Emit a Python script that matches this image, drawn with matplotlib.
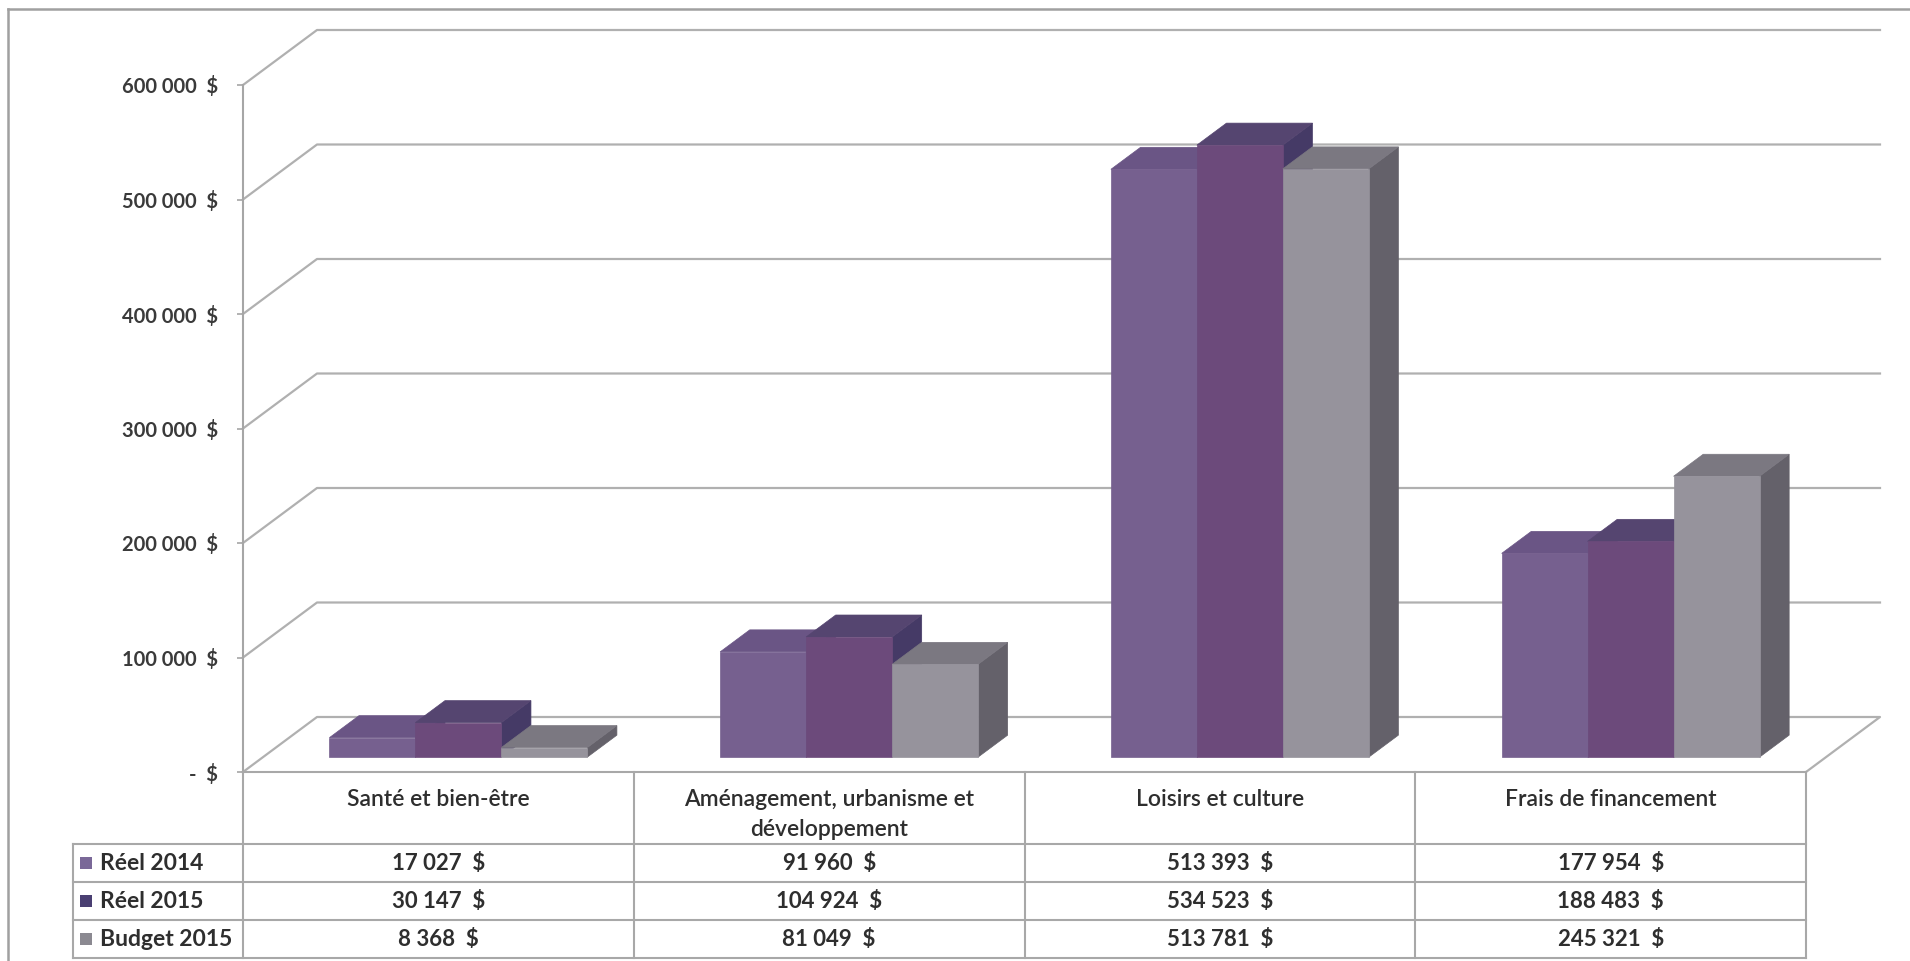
import matplotlib
matplotlib.use("Agg")
import matplotlib.pyplot as plt
from matplotlib.patches import Polygon, Rectangle

# ---------------- data ----------------
categories = ["Santé et bien-être",
              "Aménagement, urbanisme et\ndéveloppement",
              "Loisirs et culture",
              "Frais de financement"]
series_names = ["Réel 2014", "Réel 2015", "Budget 2015"]
reel_2014 = [17027, 91960, 513393, 177954]
reel_2015 = [30147, 104924, 534523, 188483]
budget_2015 = [8368, 81049, 513781, 245321]
y_ticks = [0, 100000, 200000, 300000, 400000, 500000, 600000]

series_values = [reel_2014, reel_2015, budget_2015]
front_colors = ['#76608f', '#6c4a7b', '#96939c']
top_colors = ['#6a5585', '#554570', '#7b7881']
side_colors = ['#5a4776', '#453a66', '#64616a']
legend_colors = ['#7a6898', '#4a3f72', '#8b8991']


def fmt(v):
    if v == 0:
        return "-  $"
    return f"{v:,}".replace(",", " ") + "  $"


plt.rcParams['font.family'] = ['Lato', 'DejaVu Sans']

W, H = 1910, 961
fig = plt.figure(figsize=(W / 100, H / 100), dpi=100)
fig.patch.set_facecolor('white')

# layout (pixels)
X0 = 243.0
COLW = 390.75
Y0 = 772.0
PX_PER_100K = 114.5
DEPTH_PX_X = 74.0
DEPTH_PX_Y = 55.0
DX = DEPTH_PX_X / COLW
DY = DEPTH_PX_Y / PX_PER_100K * 100000
YMAX = 600000
top_px = Y0 - YMAX / 100000 * PX_PER_100K - DEPTH_PX_Y

ax = fig.add_axes([X0 / W, (H - Y0) / H, (4 * COLW + DEPTH_PX_X) / W, (Y0 - top_px) / H])
ax.set_xlim(0, 4 + DX)
ax.set_ylim(0, YMAX + DY)
ax.patch.set_alpha(0)
for s in ['top', 'right', 'bottom']:
    ax.spines[s].set_visible(False)
ax.spines['left'].set_bounds(0, YMAX)
ax.spines['left'].set_color('#a6a6a6')
ax.spines['left'].set_linewidth(1.5)
ax.set_xticks([])
ax.set_yticks(y_ticks)
ax.set_yticklabels([fmt(v) for v in y_ticks])
ax.tick_params(axis='y', length=4.3, width=1.2, color='#a6a6a6', pad=13.5,
               labelsize=14.5, labelcolor='#3a3a3a')
for lab in ax.get_yticklabels():
    lab.set_fontweight('bold')

grid_c = '#b0b0b0'
for v in y_ticks[1:]:
    ax.plot([0, DX, 4 + DX], [v, v + DY, v + DY], color=grid_c, lw=1.6,
            clip_on=False, zorder=1)
# floor
ax.plot([0, DX, 4 + DX, 4], [0, DY, DY, 0], color=grid_c, lw=1.6, clip_on=False, zorder=1)

# 3D bars
bw = 0.22
d0, d1 = 0.27, 0.67
z = 2
for i in range(len(categories)):
    left0 = i + 0.5 - 1.5 * bw
    for j, vals in enumerate(series_values):
        v = vals[i]
        xl = left0 + j * bw
        xr = xl + bw
        fx0, fy0 = d0 * DX, d0 * DY
        bx0, by0 = d1 * DX, d1 * DY
        side = [(xr + fx0, fy0), (xr + bx0, by0), (xr + bx0, v + by0), (xr + fx0, v + fy0)]
        top = [(xl + fx0, v + fy0), (xr + fx0, v + fy0), (xr + bx0, v + by0), (xl + bx0, v + by0)]
        front = [(xl + fx0, fy0), (xr + fx0, fy0), (xr + fx0, v + fy0), (xl + fx0, v + fy0)]
        for poly, col in ((side, side_colors[j]), (top, top_colors[j]), (front, front_colors[j])):
            ax.add_patch(Polygon(poly, closed=True, facecolor=col, edgecolor=col,
                                 lw=0.5, zorder=z, clip_on=False))
            z += 1

# ---------------- overlay: table, frame ----------------
fax = fig.add_axes([0, 0, 1, 1])
fax.set_xlim(0, W)
fax.set_ylim(H, 0)
fax.axis('off')
fax.patch.set_alpha(0)

line_c = '#a8a8a8'
text_c = '#2e2e2e'
LEG_X = 73
row_y = [772, 844, 882, 920, 958]
col_x = [X0 + k * COLW for k in range(5)]

# frame
fax.plot([8, 8], [H, 9], color='#a0a0a0', lw=1.8)
fax.plot([8, W], [9, 9], color='#a0a0a0', lw=1.8)

# table lines
fax.plot([X0, col_x[-1]], [row_y[0], row_y[0]], color=line_c, lw=1.5)
for y in row_y[1:]:
    fax.plot([LEG_X, col_x[-1]], [y, y], color=line_c, lw=1.5)
fax.plot([LEG_X, LEG_X], [row_y[1], row_y[-1]], color=line_c, lw=1.5)
for x in col_x:
    fax.plot([x, x], [row_y[0], row_y[-1]], color=line_c, lw=1.5)

for i, cat in enumerate(categories):
    cx = X0 + (i + 0.5) * COLW
    fax.text(cx, 789, cat, ha='center', va='top', fontsize=16.5, color=text_c,
             fontweight='semibold', linespacing=1.5)
    for j, vals in enumerate(series_values):
        yc = (row_y[j + 1] + row_y[j + 2]) / 2
        fax.text(cx, yc + 1, fmt(vals[i]), ha='center', va='center', fontsize=16,
                 fontweight='bold', color=text_c)

for j, name in enumerate(series_names):
    yc = (row_y[j + 1] + row_y[j + 2]) / 2
    fax.add_patch(Rectangle((80, yc - 6.5), 12, 12, facecolor=legend_colors[j],
                            edgecolor='none'))
    fax.text(100, yc + 1, name, ha='left', va='center', fontsize=16.5, fontweight='bold',
             color=text_c)

fig.savefig('out.png', dpi=100, facecolor='white')
